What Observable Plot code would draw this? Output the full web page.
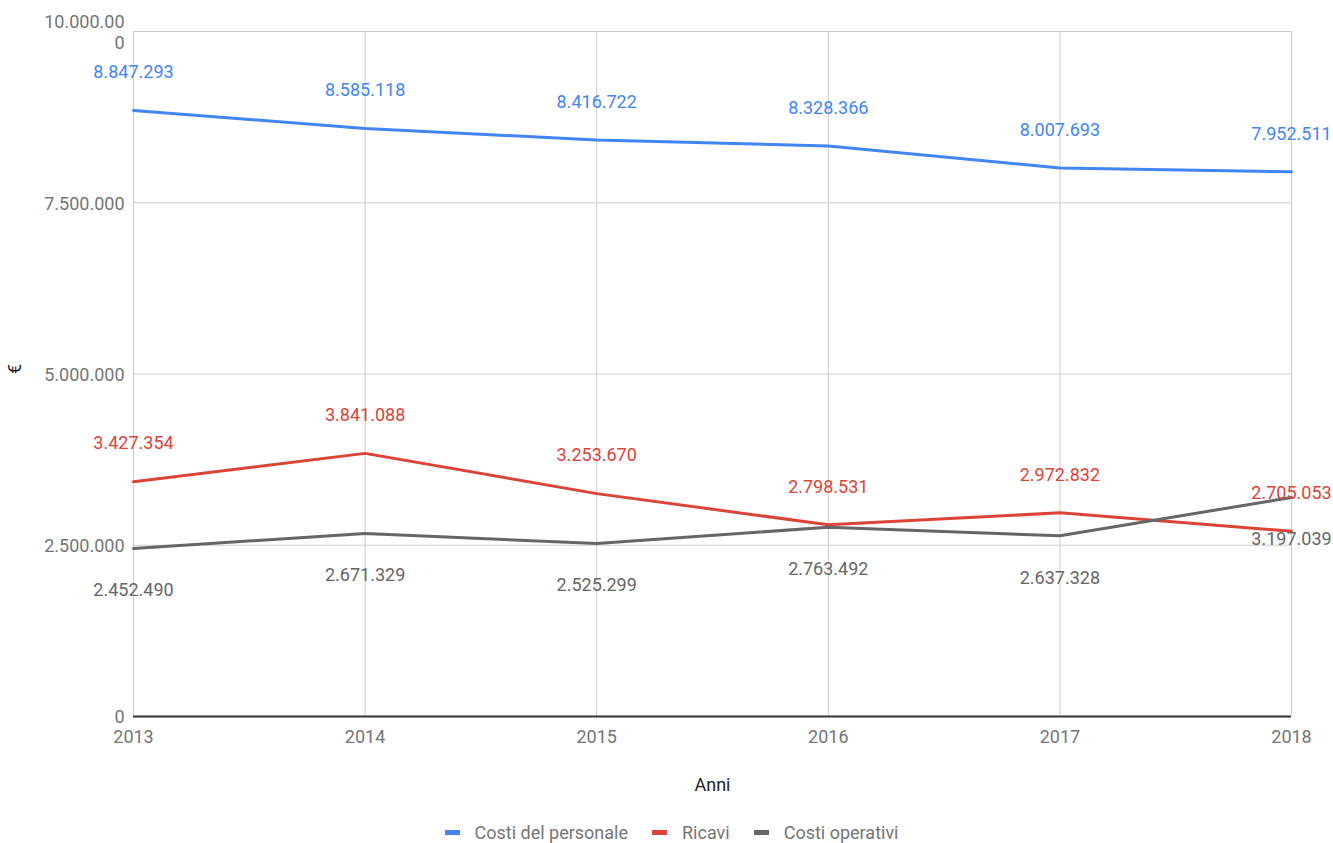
<!DOCTYPE html>
<html>
<head>
<meta charset="utf-8">
<script src="https://cdn.jsdelivr.net/npm/d3@7"></script>
<script src="https://cdn.jsdelivr.net/npm/@observablehq/plot@0.6"></script>
<style>
  html, body { margin: 0; padding: 0; background: #fff; }
  body { width: 1333px; height: 843px; overflow: hidden; font-family: Roboto, sans-serif; }
  #legend { display: flex; justify-content: center; align-items: center; gap: 24px; height: 22px; margin-top: 9px; font-size: 18px; color: #757575; padding-left: 10px; }
  #legend span.item { display: flex; align-items: center; gap: 15px; }
  #legend span.sw { display: inline-block; width: 15px; height: 5px; }
</style>
</head>
<body>
<div id="chart"></div>
<div id="legend"></div>
<script>
const years = [2013, 2014, 2015, 2016, 2017, 2018];
const seriesNames = ["Costi del personale", "Ricavi", "Costi operativi"];
const costiPersonale = [8847293, 8585118, 8416722, 8328366, 8007693, 7952511];
const ricavi = [3427354, 3841088, 3253670, 2798531, 2972832, 2705053];
const costiOperativi = [2452490, 2671329, 2525299, 2763492, 2637328, 3197039];
const colors = ["#4285F4", "#DB4437", "#666666"];
const yTicks = [0, 2500000, 5000000, 7500000, 10000000];

const it = d3.formatLocale({decimal: ",", thousands: ".", grouping: [3], currency: ["€", ""]});
const fmt = it.format(",d");

const valuesBySeries = [costiPersonale, ricavi, costiOperativi];
const data = [];
seriesNames.forEach((s, i) => years.forEach((y, j) => data.push({series: s, year: y, value: valuesBySeries[i][j], above: i < 2})));

const tickFmt = v => v === 10000000 ? "10.000.00\n0" : fmt(v);

const chart = Plot.plot({
  width: 1333,
  height: 812,
  marginLeft: 133,
  marginRight: 42,
  marginTop: 31,
  marginBottom: 96,
  style: {fontFamily: "Roboto, sans-serif", fontSize: "18px", color: "#757575", background: "#fff"},
  x: {type: "linear", domain: [2013, 2018], label: null},
  y: {domain: [0, 10000000], label: null},
  color: {domain: seriesNames, range: colors},
  marks: [
    Plot.gridX(years, {stroke: "#cccccc", strokeOpacity: 1, strokeWidth: 1}),
    Plot.gridY(yTicks.filter(d => d > 0), {stroke: "#cccccc", strokeOpacity: 1, strokeWidth: 1}),
    Plot.axisX(years, {tickSize: 0, tickPadding: 14, fontSize: 18, fill: "#757575", tickFormat: d => String(d), label: null}),
    Plot.axisY(yTicks, {tickSize: 0, tickPadding: 9, fontSize: 18, fill: "#757575", tickFormat: tickFmt, label: null, lineHeight: 1.2}),
    Plot.ruleY([0], {stroke: "#333333", strokeWidth: 2}),
    Plot.line(data, {x: "year", y: "value", z: "series", stroke: "series", strokeWidth: 3}),
    Plot.text(data.filter(d => d.above), {x: "year", y: "value", text: d => fmt(d.value), fill: "series", dy: -38, fontSize: 18}),
    Plot.text(data.filter(d => !d.above), {x: "year", y: "value", text: d => fmt(d.value), fill: "series", dy: 42, fontSize: 18}),
    Plot.text(["Anni"], {frameAnchor: "bottom", dy: 74, text: d => d, fill: "#222", fontSize: 18}),
    Plot.text(["€"], {frameAnchor: "left", dx: -118, rotate: -90, text: d => d, fill: "#222", fontSize: 18})
  ]
});
document.getElementById("chart").appendChild(chart);

const legend = document.getElementById("legend");
seriesNames.forEach((s, i) => {
  const item = document.createElement("span");
  item.className = "item";
  const sw = document.createElement("span");
  sw.className = "sw";
  sw.style.background = colors[i];
  item.appendChild(sw);
  const t = document.createElement("span");
  t.textContent = s;
  item.appendChild(t);
  legend.appendChild(item);
});
</script>
</body>
</html>
